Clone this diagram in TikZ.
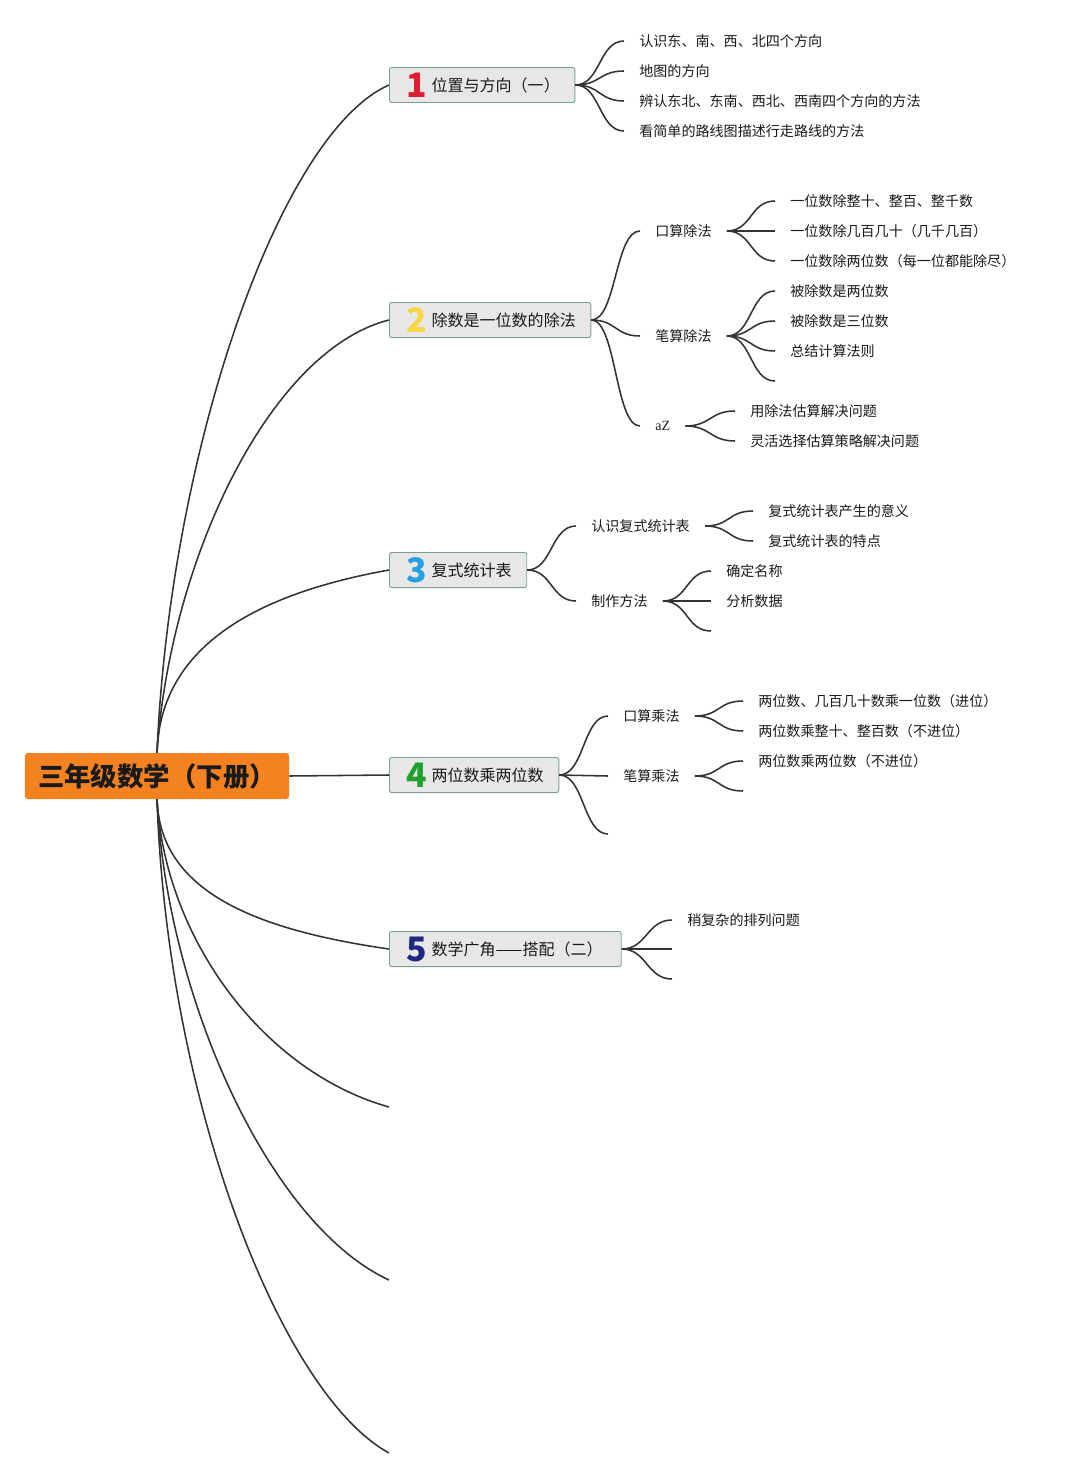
\documentclass[tikz,border=0pt]{standalone}
\usepackage{fontspec}
\setmainfont{Noto Sans CJK SC}
\newfontfamily\latinserif{Liberation Serif}
\definecolor{rootorange}{RGB}{245,130,32}
\definecolor{boxgray}{RGB}{231,231,231}
\definecolor{boxborder}{RGB}{122,162,146}
\definecolor{linegray}{RGB}{51,51,51}
\definecolor{textblack}{RGB}{26,26,26}
\definecolor{numred}{RGB}{224,28,48}
\definecolor{numyellow}{RGB}{246,214,72}
\definecolor{numblue}{RGB}{40,160,222}
\definecolor{numgreen}{RGB}{32,160,44}
\definecolor{numnavy}{RGB}{30,40,130}
\usepackage{tikz}
\usetikzlibrary{positioning,calc}
\newcommand{\topiclabel}[3]{\hspace*{12.1pt}\makebox[14.2pt]{\raisebox{-4.4pt}[0pt][0pt]{\fontsize{24pt}{24pt}\selectfont\bfseries\textcolor{#1}{#2}}}\hspace{3.6pt}#3\hspace*{10.7pt}}

\begin{document}
\begin{tikzpicture}[x=0.025cm, y=-0.025cm,
    every node/.style={font=\fontsize{10pt}{12pt}\selectfont, text=textblack},
    root/.style={fill=rootorange, rounded corners=2pt, minimum width=187.8pt, minimum height=32.7pt, font=\fontsize{18.8pt}{20pt}\selectfont\bfseries},
    topic/.style={draw=boxborder, fill=boxgray, line width=0.7pt, rounded corners=1.5pt, anchor=west, minimum height=24.9pt, inner xsep=0pt, font=\fontsize{11.4pt}{13pt}\selectfont},
    leaf/.style={anchor=west, inner xsep=10.7pt, inner ysep=2pt},
    link/.style={draw=linegray, line width=1.1pt},
    branch/.style={link, to path={.. controls +(25,0) and +(-25,0) .. (\tikztotarget)}}]
    \fill[white] (0,0) rectangle (1075,1479);
    \useasboundingbox (0,0) rectangle (1075,1479);

    \node[root] (root) at (157,776) {三年级数学（下册）};

    % main topics
    \node[topic] (t1) at (389,85) {\topiclabel{numred}{1}{位置与方向（一）}};
    \node[topic] (t2) at (389,320) {\topiclabel{numyellow}{2}{除数是一位数的除法}};
    \node[topic] (t3) at (389,570) {\topiclabel{numblue}{3}{复式统计表}};
    \node[topic] (t4) at (389,775) {\topiclabel{numgreen}{4}{两位数乘两位数}};
    \node[topic] (t5) at (389,949) {\topiclabel{numnavy}{5}{数学广角——搭配（二）\hspace{2.5pt}}};
    \coordinate (t6) at (389,1107);
    \coordinate (t7) at (389,1280);
    \coordinate (t8) at (389,1453);

    \draw[link] (root.north) .. controls +(13,-303) and +(-109,48) .. (t1.west);
    \draw[link] (root.north) .. controls +(13,-193) and +(-119,30) .. (t2.west);
    \draw[link] (root.north) .. controls +(3,-103) and +(-139,25) .. (t3.west);
    \draw[link] (root.east) -- (t4.west);
    \draw[link] (root.south) .. controls +(3,90) and +(-139,-20) .. (t5.west);
    \draw[link] (root.south) .. controls +(8,140) and +(-125,-35) .. (t6);
    \draw[link] (root.south) .. controls +(10,200) and +(-119,-55) .. (t7);
    \draw[link] (root.south) .. controls +(10,300) and +(-109,-60) .. (t8);

    % topic 1
    \node[leaf] (t1a) at (624,41) {认识东、南、西、北四个方向};
    \node[leaf] (t1b) at (624,71) {地图的方向};
    \node[leaf] (t1c) at (624,101) {辨认东北、东南、西北、西南四个方向的方法};
    \node[leaf] (t1d) at (624,131) {看简单的路线图描述行走路线的方法};
    \draw[branch] (t1.east) to (t1a.west);
    \draw[branch] (t1.east) to (t1b.west);
    \draw[branch] (t1.east) to (t1c.west);
    \draw[branch] (t1.east) to (t1d.west);

    % topic 2
    \node[leaf] (t2a) at (640,231) {口算除法};
    \node[leaf] (t2b) at (640,336) {笔算除法};
    \node[leaf] (t2c) at (640,426) {\latinserif aZ};
    \draw[branch] (t2.east) to (t2a.west);
    \draw[branch] (t2.east) to (t2b.west);
    \draw[branch] (t2.east) to (t2c.west);
    \node[leaf] (t2a1) at (775,201) {一位数除整十、整百、整千数};
    \node[leaf] (t2a2) at (775,231) {一位数除几百几十（几千几百）};
    \node[leaf] (t2a3) at (775,261) {一位数除两位数（每一位都能除尽）};
    \draw[branch] (t2a.east) to (t2a1.west);
    \draw[branch] (t2a.east) to (t2a2.west);
    \draw[branch] (t2a.east) to (t2a3.west);
    \node[leaf] (t2b1) at (775,291) {被除数是两位数};
    \node[leaf] (t2b2) at (775,321) {被除数是三位数};
    \node[leaf] (t2b3) at (775,351) {总结计算法则};
    \coordinate (t2b4) at (775,381);
    \draw[branch] (t2b.east) to (t2b1.west);
    \draw[branch] (t2b.east) to (t2b2.west);
    \draw[branch] (t2b.east) to (t2b3.west);
    \draw[branch] (t2b.east) to (t2b4);
    \node[leaf] (t2c1) at (735,411) {用除法估算解决问题};
    \node[leaf] (t2c2) at (735,441) {灵活选择估算策略解决问题};
    \draw[branch] (t2c.east) to (t2c1.west);
    \draw[branch] (t2c.east) to (t2c2.west);

    % topic 3
    \node[leaf] (t3a) at (576,526) {认识复式统计表};
    \node[leaf] (t3b) at (576,601) {制作方法};
    \draw[branch] (t3.east) to (t3a.west);
    \draw[branch] (t3.east) to (t3b.west);
    \node[leaf] (t3a1) at (753,511) {复式统计表产生的意义};
    \node[leaf] (t3a2) at (753,541) {复式统计表的特点};
    \draw[branch] (t3a.east) to (t3a1.west);
    \draw[branch] (t3a.east) to (t3a2.west);
    \node[leaf] (t3b1) at (711,571) {确定名称};
    \node[leaf] (t3b2) at (711,601) {分析数据};
    \coordinate (t3b3) at (711,631);
    \draw[branch] (t3b.east) to (t3b1.west);
    \draw[branch] (t3b.east) to (t3b2.west);
    \draw[branch] (t3b.east) to (t3b3);

    % topic 4
    \node[leaf] (t4a) at (608,716) {口算乘法};
    \node[leaf] (t4b) at (608,776) {笔算乘法};
    \coordinate (t4c) at (608,834);
    \draw[branch] (t4.east) to (t4a.west);
    \draw[branch] (t4.east) to (t4b.west);
    \draw[branch] (t4.east) to (t4c);
    \node[leaf] (t4a1) at (743,701) {两位数、几百几十数乘一位数（进位）};
    \node[leaf] (t4a2) at (743,731) {两位数乘整十、整百数（不进位）};
    \draw[branch] (t4a.east) to (t4a1.west);
    \draw[branch] (t4a.east) to (t4a2.west);
    \node[leaf] (t4b1) at (743,761) {两位数乘两位数（不进位）};
    \coordinate (t4b2) at (743,791);
    \draw[branch] (t4b.east) to (t4b1.west);
    \draw[branch] (t4b.east) to (t4b2);

    % topic 5
    \node[leaf] (t5a) at (672,920) {稍复杂的排列问题};
    \coordinate (t5b) at (672,949);
    \coordinate (t5c) at (672,979);
    \draw[branch] (t5.east) to (t5a.west);
    \draw[branch] (t5.east) to (t5b);
    \draw[branch] (t5.east) to (t5c);
\end{tikzpicture}
\end{document}
